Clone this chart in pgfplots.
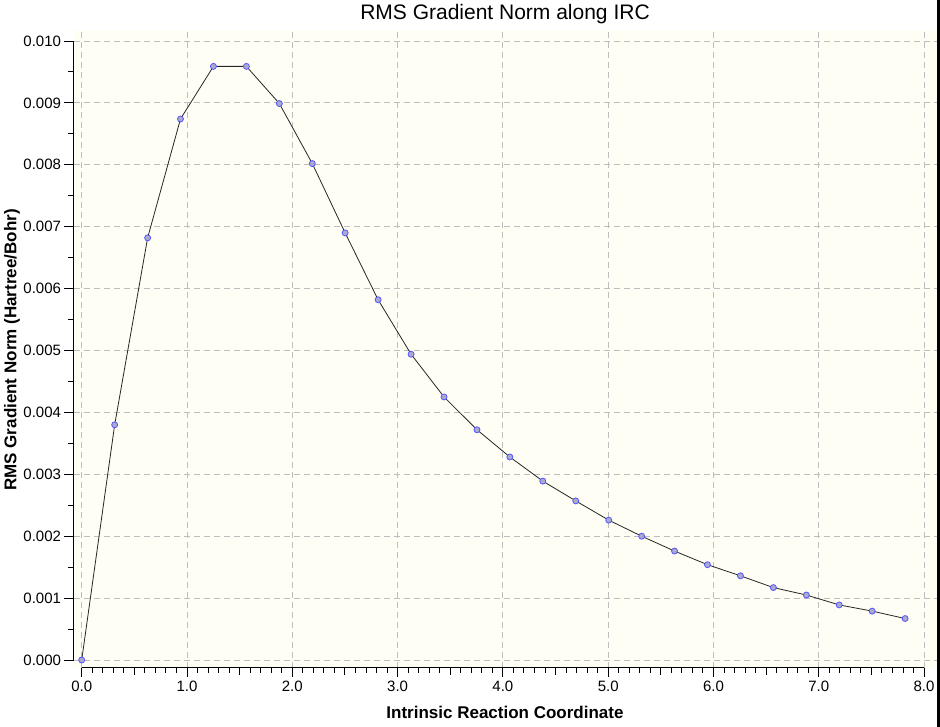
\documentclass[border=0pt]{standalone}
\usepackage{fontspec}
\setmainfont{Liberation Sans}
\usepackage{pgfplots}
\pgfplotsset{compat=1.18}
\definecolor{PlotBg}{RGB}{255,254,245}
\definecolor{GridGray}{RGB}{190,190,190}
\definecolor{MarkFill}{RGB}{170,170,205}
\definecolor{MarkDraw}{RGB}{85,85,255}

\begin{document}
\begin{tikzpicture}[x=1pt,y=1pt]
\path[use as bounding box] (0,0) rectangle (940,727);
\begin{axis}[
    at={(73.5pt,59pt)}, anchor=south west,
    scale only axis, width=863.5pt, height=638pt,
    xmin=-0.078, xmax=8.123,
    ymin=-0.000129, ymax=0.010178,
    clip=false,
    axis background/.style={fill=PlotBg},
    axis line style={draw=none},
    xtick={0,1,2,3,4,5,6,7,8},
    ytick={0,0.001,0.002,0.003,0.004,0.005,0.006,0.007,0.008,0.009,0.010},
    minor x tick num=9,
    minor y tick num=1,
    extra x ticks={0.5,1.5,2.5,3.5,4.5,5.5,6.5,7.5},
    extra x tick labels={},
    extra x tick style={grid=none, major tick length=7pt},
    xtick pos=bottom, ytick pos=left,
    tick align=outside,
    major tick length=9pt,
    minor tick length=5pt,
    every tick/.style={black, line width=1pt},
    scaled y ticks=false,
    xticklabel style={/pgf/number format/.cd, fixed, fixed zerofill, precision=1},
    yticklabel style={/pgf/number format/.cd, fixed, fixed zerofill, precision=3},
    /pgf/number format/assume math mode=true,
    tick label style={font=\fontsize{15}{18}\selectfont},
    grid=major,
    major grid style={draw=GridGray, line width=0.9pt, dash pattern=on 6pt off 4pt},
]
\addplot[black!85, line width=0.8pt, mark=*, mark size=3pt,
    mark options={fill=MarkFill, draw=MarkDraw, line width=0.8pt}] coordinates {
    (0.000,0.00000) (0.313,0.00380) (0.626,0.00682) (0.938,0.00874)
    (1.251,0.00959) (1.564,0.00959) (1.877,0.00899) (2.190,0.00802)
    (2.502,0.00690) (2.815,0.00582) (3.128,0.00494) (3.441,0.00425)
    (3.754,0.00372) (4.066,0.00328) (4.379,0.00289) (4.692,0.00257)
    (5.005,0.00226) (5.318,0.00200) (5.630,0.00176) (5.943,0.00154)
    (6.256,0.00136) (6.569,0.00117) (6.882,0.00105) (7.194,0.00089)
    (7.507,0.00079) (7.820,0.00067)
};
\draw[black, line width=1pt] (axis cs:0,-0.000129) -- (axis cs:8,-0.000129);
\draw[black, line width=1pt] (axis cs:-0.078,0) -- (axis cs:-0.078,0.010);
\end{axis}
\node[font=\fontsize{21}{25}\selectfont] at (505,713) {RMS Gradient Norm along IRC};
\node[font=\fontsize{17}{20}\selectfont\bfseries] at (505,15) {Intrinsic Reaction Coordinate};
\node[font=\fontsize{17}{20}\selectfont\bfseries, rotate=90] at (12,377) {RMS Gradient Norm (Hartree/Bohr)};
\fill[black] (937,0) rectangle (940,727);
\end{tikzpicture}
\end{document}
